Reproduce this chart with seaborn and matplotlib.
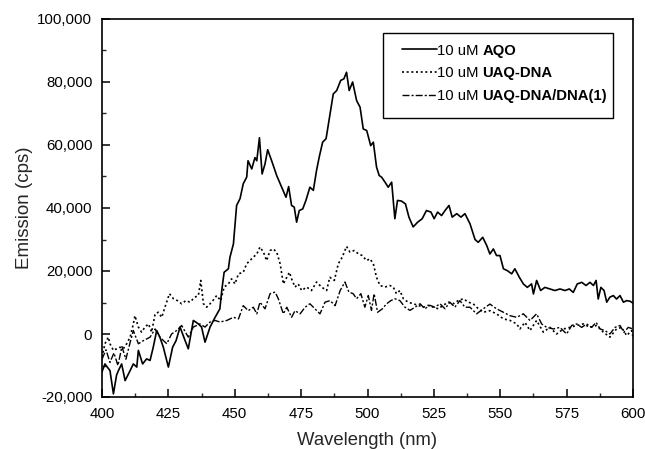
import numpy as np
import matplotlib
matplotlib.use("Agg")
import matplotlib.pyplot as plt
import seaborn as sns
from matplotlib.ticker import FuncFormatter, MultipleLocator
from matplotlib.offsetbox import DrawingArea, TextArea, HPacker, VPacker, AnchoredOffsetbox
from matplotlib.lines import Line2D

# ---------------- data (wavelength in nm, emission in thousands of cps) ----------------
aqo_nm = [400, 401.1, 403, 404.3, 405.5, 406.2, 407.4, 408.7, 410.6, 411.8, 413.1, 413.7, 415.3, 416.8,
          418.1, 419.3, 420.6, 421.8, 423.1, 425, 426.6, 427.9, 429.4, 431.3, 432.5, 434.4, 436.3, 437.5,
          438.8, 440.7, 442.6, 444.4, 445.1, 446, 447.6, 448.2, 449.5, 450.7, 452, 453.2, 454.5, 455,
          456.4, 457.6, 458.3, 459.3, 460.3, 461.4, 462.4, 463.9, 465.8, 467.7, 469.3, 470.3, 471.4, 472.4,
          473.3, 474.3, 475.6, 476.8, 478.3, 479.6, 480.8, 481.8, 483.1, 484.4, 485.9, 487.1, 488.4, 489.9,
          491.1, 492.1, 493.1, 494.4, 495.9, 497.2, 498.4, 499.7, 501.2, 502.2, 503.4, 504.4, 505.3, 506.6,
          507.8, 509.1, 510.3, 511.3, 512.8, 514.3, 515.6, 517.2, 518.9, 520.6, 522.2, 523.9, 525.1, 526.4,
          527.9, 529.2, 530.7, 531.9, 533.6, 535.2, 536.7, 538.6, 540.5, 541.7, 543.4, 544.9, 546.1, 547.4,
          548.6, 549.9, 551.2, 552.7, 554.3, 555.5, 557.2, 558.7, 560.2, 561.8, 562.5, 563.7, 565.2, 566.8,
          568.7, 570.6, 572.5, 574.4, 576, 577.5, 579, 580.7, 582.3, 583.8, 585.1, 586.1, 586.9, 587.9,
          589.1, 590.1, 591.3, 592.6, 593.8, 595.1, 596.4, 597.6, 598.9, 600]
aqo_k = [-12, -9.5, -11.6, -19, -13, -11.6, -9.5, -14.8, -11.6, -9.5, -10.5, -5.2, -9.5, -7.9,
         -8.4, -4.2, 1.1, -1, -4.2, -10.5, -4.2, -2.1, 2.2, -2.1, -4.7, 4.3, 3.2, 2.2,
         -2.6, 2.2, 5.3, 8, 13.8, 19.6, 20.7, 24.4, 28.6, 40.8, 43, 47.7, 49.8, 55,
         52.4, 56, 55, 62.3, 50.8, 54, 58.5, 55, 50.3, 46.6, 43.4, 46.8, 40.8, 40.3,
         35.5, 39.2, 39.7, 42.4, 46.6, 45.6, 51.9, 56.1, 60.9, 62, 69.9, 76.2, 77.3, 80.5,
         81, 83.1, 77.3, 80, 74.1, 72, 65.1, 64.6, 59.8, 60.9, 53, 50.3, 49.8, 48.2,
         46.6, 48.2, 36.6, 42.4, 42.2, 41.3, 37.1, 34, 35.5, 36.6, 39.2, 38.7, 36.6, 38.7,
         37.6, 39.2, 40.8, 37.1, 38.2, 37.1, 38.2, 35, 30, 29.1, 30.7, 28.1, 25.4, 27,
         24.9, 24.9, 20.7, 20.1, 19.1, 20.7, 18, 15.9, 14.8, 15.9, 12.7, 17, 13.8, 14.8,
         14.3, 13.8, 14.3, 13.8, 14.3, 13.2, 15.9, 16.4, 15.4, 16.4, 15.4, 17, 11.1, 14.8,
         13.8, 10.1, 11.7, 12.2, 11.1, 12.2, 10.1, 10.6, 10.4, 9.8]

uaq_nm = [400, 401.1, 402.4, 403, 404.3, 405.5, 406.8, 408, 409.3, 410.6, 411.8, 412.4, 413.7, 414.9,
          416.2, 417.5, 418.7, 420, 421.2, 422.5, 423.7, 425.4, 426.9, 428.4, 430, 431.6, 433.1, 435,
          436.3, 437.2, 438.2, 439.4, 441.3, 443.2, 444.7, 446, 447.6, 448.8, 450.1, 451.4, 453.2, 454.5,
          455.7, 457, 458.3, 459.5, 460.8, 462, 463.3, 464.5, 465.8, 467.1, 468.3, 469.6, 470.6, 471.4,
          472.7, 473.9, 475.2, 477.1, 478.9, 480.8, 482.7, 484.6, 485.8, 487.5, 489, 490.5, 492.1, 493.4,
          495, 496.5, 498, 499.7, 500.9, 502.2, 503.4, 504.7, 506.6, 508.4, 509.7, 510.9, 512.2, 513.5,
          515.3, 517.2, 519.1, 521, 522.9, 524.8, 526.7, 528.5, 530.4, 532.3, 534.2, 536.1, 538, 539.8,
          541.1, 543.6, 546.1, 548.6, 551.2, 553.7, 556.2, 557.4, 559.3, 561.2, 563.7, 566.2, 568.7, 571.2,
          573.8, 576.3, 578.8, 581.3, 583.8, 586.3, 588.8, 591.3, 593.8, 595.7, 597.6, 599.5, 600]
uaq_k = [-7.4, -3.1, -1, -3.1, -5.2, -4.7, -4.2, -4.7, -3.1, -1, 3.2, 5.8, 2.2, 0.6,
         2.2, 3.2, 0.6, 6.4, 6.9, 5.3, 8.5, 12.8, 11.2, 10.6, 9.6, 10.6, 10.1, 11.7,
         12.2, 17, 9.6, 8.5, 10.1, 12.2, 10.6, 14.9, 15.9, 17.5, 15.9, 19.1, 19.6, 22.3,
         23.3, 24.4, 25.4, 27.6, 26, 23.3, 26.5, 27, 26, 22.3, 15.9, 18, 19.6, 17.5,
         14.9, 15.9, 13.8, 14.9, 13.8, 16.5, 14.9, 13.8, 18, 17, 22.3, 24.4, 27.8, 26,
         26.5, 25.5, 24.9, 23.3, 23.9, 22.3, 18, 15.4, 14.9, 15.4, 14.9, 12.8, 13.8, 11.2,
         10.1, 9.6, 9.1, 8.5, 9.1, 8.5, 8, 9.1, 10.1, 9.6, 10.6, 11.2, 10.1, 9.6,
         8.5, 6.9, 7.4, 6.4, 4.8, 4.3, 3.2, 1.6, 3.7, 1.1, 4.3, 0.6, 2.1, 0,
         1.6, 2.1, 2.7, 3.2, 2.1, 2.7, 0.6, -1, 1.6, 2.1, -0.5, 1.1, -1]

dna_nm = [400, 401.5, 403, 404.5, 406, 407.5, 409, 410.5, 411.8, 413.7, 415.6, 418.1, 420, 421.8,
          424.4, 426.2, 428.1, 430, 432.5, 434.4, 436.9, 438.8, 440.7, 442.6, 444.4, 447, 449.5, 451.4,
          453.2, 455.1, 457, 458.3, 459.5, 461.4, 463.3, 465.2, 466.4, 468.3, 469.6, 471.4, 472.7, 474.6,
          476.5, 478.3, 480.2, 482.1, 484, 485.9, 487.8, 489.7, 491.5, 493, 494.6, 495.9, 497.5, 499,
          500.3, 501.5, 502.5, 503.8, 505.6, 507.2, 508.8, 510.3, 512.2, 514.1, 516, 517.9, 519.8, 521.6,
          523.5, 525.4, 527.3, 529.2, 531, 532.9, 534.8, 536.7, 538.6, 541.1, 543.6, 546.1, 548.6, 551.2,
          553.7, 556.2, 558.7, 561.2, 563.7, 565.6, 567.5, 570, 572.5, 575, 576.9, 578.8, 580.7, 582.5,
          584.4, 586.1, 587.6, 589.4, 591.3, 593.2, 595.1, 596.6, 598.2, 600]
dna_k = [-8, -5, -9, -6, -10, -4, -8, -3, 1.1, -3.1, -2.1, -1, 1.6, -1,
         -3.1, 0, 1.1, 2.7, -1, 2.2, 3.2, 2.2, 3.8, 4.3, 3.8, 4.3, 5.3, 4.8,
         9, 7.4, 8.5, 6.4, 10.1, 8, 12.8, 13.3, 11.2, 6.4, 8.5, 5.3, 7.4, 6.4,
         8.5, 9.6, 8, 6.4, 10.1, 10.6, 9, 13.8, 16.5, 13.3, 12.8, 11.2, 12.8, 8.5,
         12.2, 7.5, 12.8, 6.9, 8, 9.6, 10.6, 11.2, 10.6, 8.5, 7.5, 8.5, 9.6, 8,
         9.1, 8.5, 9.6, 8, 10.1, 8.5, 10.6, 8.5, 8.5, 6.4, 8, 9.5, 8, 6.9,
         5.8, 5.3, 6.4, 4.3, 6.4, 3.2, 2.1, 1.6, 2.1, 0, 2.7, 3.2, 2.1, 3.2,
         2.1, 3.7, 1.6, 1.1, 0, 2.1, 2.7, 0.5, 2.1, 1.6]

series_names = ["AQO", "UAQ-DNA", "UAQ-DNA/DNA(1)"]
legend_prefix = "10 uM "
x_ticks = [400, 425, 450, 475, 500, 525, 550, 575, 600]
y_ticks = [-20000, 0, 20000, 40000, 60000, 80000, 100000]

# ---------------- style ----------------
sns.set_style("ticks")
plt.rcParams["font.family"] = ["Liberation Sans", "DejaVu Sans"]

fig = plt.figure(figsize=(6.45, 4.49), dpi=100)
ax = fig.add_axes([102 / 645, 1 - 397 / 449, (633 - 102) / 645, (397 - 19) / 449])

styles = [
    dict(linestyle="-", linewidth=1.2),
    dict(linestyle=(0, (1.2, 1.6)), linewidth=1.2),
    dict(linestyle=(0, (5, 1.5, 1.5, 1.5)), linewidth=1.0),
]
datasets = [(aqo_nm, aqo_k), (uaq_nm, uaq_k), (dna_nm, dna_k)]
for (xs, ks), st in zip(datasets, styles):
    sns.lineplot(x=np.array(xs), y=np.array(ks) * 1000, ax=ax, color="black",
                 legend=False, estimator=None, **st)

ax.set_xlim(400, 600)
ax.set_ylim(-20000, 100000)
ax.set_xticks(x_ticks)
ax.set_yticks(y_ticks)
ax.xaxis.set_minor_locator(MultipleLocator(12.5))
ax.yaxis.set_minor_locator(MultipleLocator(10000))
ax.yaxis.set_major_formatter(FuncFormatter(lambda v, p: f"{v:,.0f}"))
ax.tick_params(which="major", direction="in", length=5.5, width=1.1, labelsize=10.8, colors="black",
               top=False, right=False)
ax.tick_params(which="minor", direction="in", length=3, width=1.0, top=False, right=False)
ax.tick_params(axis="y", pad=7)
ax.tick_params(axis="x", pad=7)
for s in ax.spines.values():
    s.set_visible(True)
    s.set_linewidth(1.2)
    s.set_color("black")

ax.set_xlabel("Wavelength (nm)", fontsize=13.3, labelpad=8)
ax.set_ylabel("Emission (cps)", fontsize=13.5, labelpad=3)

# ---------------- legend with partly bold labels (sizes in points) ----------------
rows = []
for name, st in zip(series_names, styles):
    da = DrawingArea(34.2, 8, 0, 0)
    ln = Line2D([9, 34.2], [3.8, 3.8], color="black", **st)
    da.add_artist(ln)
    t1 = TextArea(legend_prefix, textprops=dict(fontsize=10.7, color="black"))
    t2 = TextArea(name, textprops=dict(fontsize=10.7, color="black", fontweight="bold"))
    rows.append(HPacker(children=[da, t1, t2], pad=0, sep=0, align="baseline"))
inner = VPacker(children=rows, pad=0, sep=6.3, align="left")
outer = VPacker(children=[DrawingArea(10, 3, 0, 0), inner, DrawingArea(10, 6, 0, 0)],
                pad=0, sep=0, align="left")
anch = AnchoredOffsetbox(loc="upper left", child=outer, pad=0.45, borderpad=0, frameon=True,
                         bbox_to_anchor=((383 - 102) / 531, (397 - 33) / 378),
                         bbox_transform=ax.transAxes)
anch.patch.set_boxstyle("square", pad=0)
anch.patch.set_edgecolor("black")
anch.patch.set_linewidth(1.0)
ax.add_artist(anch)

fig.savefig("out.png", dpi=100)
